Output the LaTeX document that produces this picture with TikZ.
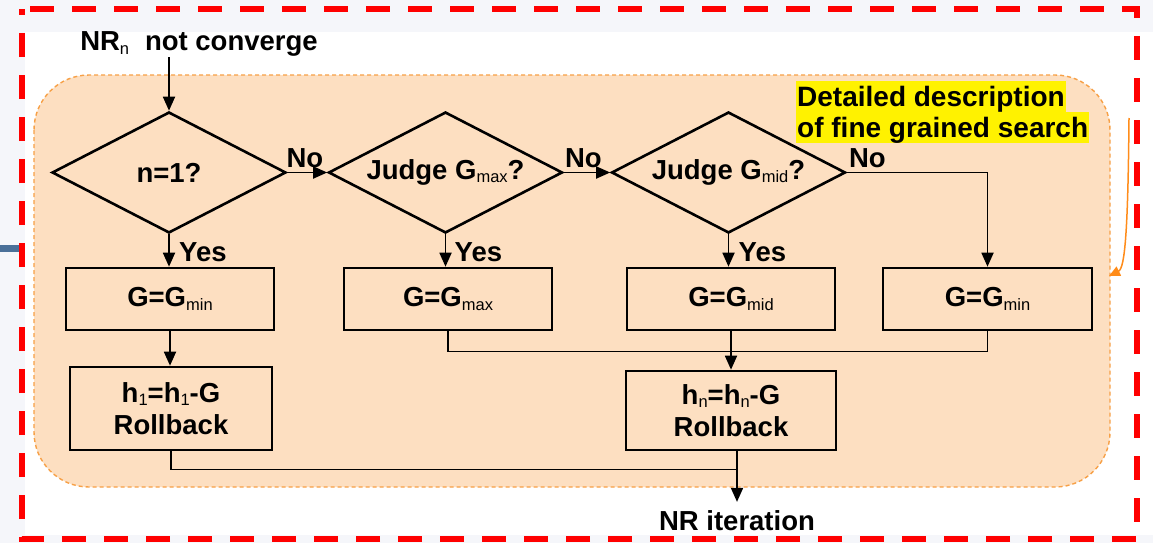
\documentclass[tikz,border=0pt]{standalone}
\usepackage{fontspec}
\setmainfont{Liberation Sans}
\usetikzlibrary{shapes.geometric,arrows.meta,calc}

\definecolor{slidegray}{RGB}{245,246,250}
\definecolor{peach}{RGB}{253,223,193}
\definecolor{boxorange}{RGB}{247,160,70}
\definecolor{leadorange}{RGB}{255,140,26}
\definecolor{steel}{RGB}{74,112,153}

% small, lowered index text (G_max, h_1, NR_n)
\newcommand{\lo}[1]{\raisebox{-0.12em}{\fontsize{16.5}{16.5}\selectfont\mdseries #1}}

\begin{document}
\begin{tikzpicture}[x=1pt,y=-1pt,
  every node/.style={font=\fontsize{27.5}{32}\selectfont\bfseries, inner sep=0pt},
  decision/.style={draw, line width=2.6pt, shape=diamond,
    minimum width=234pt, minimum height=121pt, inner sep=0pt,
    label={center:#1}},
  block/.style={draw, line width=2.6pt, minimum height=62pt, align=center},
  flow/.style={line width=1.8pt, -{Triangle[length=14pt,width=12pt]}},
  merge/.style={line width=1.5pt},
  tag/.style={anchor=base west},
  note/.style={anchor=base west, fill=yellow, inner xsep=1pt, inner ysep=0pt,
    text height=25.5pt, text depth=5.5pt, font=\fontsize{28}{32}\selectfont\bfseries},
]
\useasboundingbox (0,0) rectangle (1153,543);

% slide background
\fill[slidegray] (0,0) rectangle (1153,543);
\fill[white] (25,32) rectangle (1153,535);
\draw[steel, line width=7pt] (0,248) -- (19,248);

% fine grained search region
\draw[boxorange, fill=peach, line width=1.4pt, dash pattern=on 4pt off 3pt,
      rounded corners=55pt] (34,75) rectangle (1110,487);

% outer frame
\draw[red, line width=6.5pt, dash pattern=on 24pt off 18pt, dash phase=34pt]
  (22,9) -- (1137,9) -- (1137,539) -- (22,539) -- cycle;

% lead-in pointer
\draw[leadorange, line width=1.5pt, -{Triangle[length=11pt,width=10pt]}]
  (1129,118) .. controls (1128,230) and (1125,268) .. (1109,276);

% note
\node[note] (n1) at (796,106) {Detailed description};
\node[note] (n2) at (796,137) {of fine grained search};

% entry and exit texts
\node[anchor=base] (start) at (199,51) {NR\lo{n}\hspace{0.3em} not converge};
\node[anchor=base, inner ysep=8pt] (iter) at (737,530) {NR iteration};

% decisions (text set as centred labels so the outline keeps its size)
\node[decision={n=1?}] (d1) at (169,172.5) {};
\node[decision={Judge G\lo{max}?}] (d2) at (445.5,172.5) {};
\node[decision={Judge G\lo{mid}?}] (d3) at (728.5,172.5) {};

% step assignments
\node[block, minimum width=208pt] (b1) at (170,299) {G=G\lo{min}};
\node[block, minimum width=208pt] (b2) at (448,299) {G=G\lo{max}};
\node[block, minimum width=208pt] (b3) at (731,299) {G=G\lo{mid}};
\node[block, minimum width=209pt] (b4) at (987.5,299) {G=G\lo{min}};

% rollbacks
\node[block, minimum width=202pt, minimum height=83pt] (h1) at (171,408.5)
  {h\lo{1}=h\lo{1}-G\\Rollback};
\node[block, minimum width=210pt, minimum height=79pt] (hn) at (731,410.5)
  {h\lo{n}=h\lo{n}-G\\Rollback};

% decision flow
\draw[flow] (d1.north |- start.south) -- (d1.north);
\draw[flow] (d1.east) -- (d2.west);
\draw[flow] (d2.east) -- (d3.west);
\draw[flow] (d3.east) -| (b4.north);
\draw[flow] (d1.south) -- (d1.south |- b1.north);
\draw[flow] (d2.south) -- (d2.south |- b2.north);
\draw[flow] (d3.south) -- (d3.south |- b3.north);

\node[tag] at ([xshift=-1pt,yshift=5.5pt]d1.east) {No};
\node[tag] at ([xshift=1pt,yshift=5.5pt]d2.east) {No};
\node[tag] at ([xshift=2pt,yshift=5.5pt]d3.east) {No};
\node[tag] at ([xshift=10pt,yshift=-27pt]d1.south) {Yes};
\node[tag] at ([xshift=9pt,yshift=-27pt]d2.south) {Yes};
\node[tag] at ([xshift=10pt,yshift=-27pt]d3.south) {Yes};

% rollback flow
\draw[flow] (b1.south) -- (b1.south |- h1.north);
\draw[merge] (b2.south) -- ++(0,20) -| (b4.south);
\draw[flow] (b3.south) -- (hn.north);
\coordinate (fork) at (iter.north |- hn.south);
\draw[merge] (h1.south) -- ++(0,18) -| (fork);
\draw[flow] (fork) -- (iter.north);
\end{tikzpicture}
\end{document}
